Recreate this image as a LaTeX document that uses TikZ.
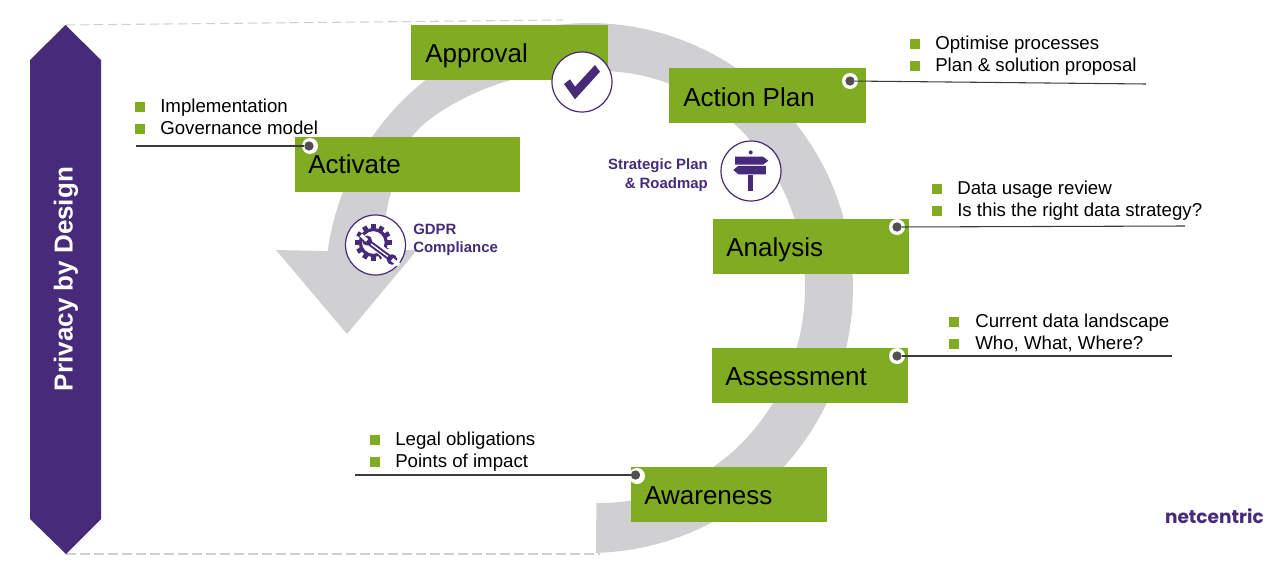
\documentclass[tikz,border=0pt]{standalone}
\usepackage{fontspec}
\setmainfont{Liberation Sans}
\newfontfamily\logofont{Poppins}
\definecolor{plum}{HTML}{472A7A}
\definecolor{leaf}{HTML}{7FAC23}
\definecolor{ring}{HTML}{D0D0D2}
\definecolor{leader}{HTML}{3C3C3C}
\tikzset{
  stage/.style={fill=leaf,draw=none,inner sep=0pt,minimum width=#1*0.75pt,minimum height=41.25pt,anchor=north west},
  stagelabel/.style={anchor=base west,inner sep=0pt,text=black,font=\fontsize{19.5}{24}\selectfont},
  bulletbox/.style={fill=leaf,draw=none,inner sep=0pt,minimum size=7.5pt},
  bullettext/.style={anchor=base west,inner sep=0pt,text=black,font=\fontsize{14}{17}\selectfont},
  iconring/.style={circle,draw=plum,fill=white,line width=0.9pt,inner sep=0pt,minimum size=45pt},
  tagtext/.style={inner sep=0pt,text=plum,font=\fontsize{11.2}{14}\bfseries\selectfont},
  pin/.style={circle,fill=white,inner sep=0pt,minimum size=12pt},
  pincore/.style={circle,fill=leader!90,inner sep=0pt,minimum size=7pt},
  leaderline/.style={draw=leader,line width=0.8pt},
  edgeline/.style={draw=ring,line width=0.8pt,dash pattern=on 7pt off 3.5pt}
}
\begin{document}
\begin{tikzpicture}[x=0.75pt,y=-0.75pt]
\useasboundingbox (0,0) rectangle (1280,560);
% ring arrow
\fill[ring]
  plot[domain=88.5:-172,samples=100] ({589+264*cos(\x)},{288+265*sin(\x)})
  -- (276,250) -- (347,334) -- (417,250) -- (382,250)
  -- plot[smooth] coordinates {(382,250) (389,200) (412,137) (455,103) (516,79) (605,71)}
  -- plot[domain=-88:91,samples=100] ({600+205*cos(\x)},{287+216*sin(\x)})
  -- cycle;
% side arrow
\node[inner sep=0pt,minimum size=0pt] (toptip) at (65.5,25) {};
\node[inner sep=0pt,minimum size=0pt] (bottomtip) at (66,554) {};
\coordinate (topend) at (563,20);
\coordinate (bottomend) at (600,554);
\draw[edgeline] (toptip) -- (topend);
\draw[edgeline] (bottomtip) -- (bottomend);
\fill[plum] (65.5,25) -- (101,60) -- (101,519) -- (66,554) -- (30,519) -- (30,60) -- cycle;
\node[rotate=90,inner sep=0pt,text=white,font=\fontsize{19.5}{24}\bfseries\selectfont] (privacy) at (66,279) {Privacy by Design};
% stages
\node[stage=197] (approvalbox) at (411,25) {};
\node[stage=197] (actionbox) at (669,68) {};
\node[stage=225] (activatebox) at (295,137) {};
\node[stage=196] (analysisbox) at (713,218.5) {};
\node[stage=196] (assessmentbox) at (712,348) {};
\node[stage=196] (awarenessbox) at (631,467) {};
\node[stagelabel] (approvaltext) at (425,63) {Approval};
\node[stagelabel] (actiontext) at (683,106) {Action Plan};
\node[stagelabel] (activatetext) at (308,173.3) {Activate};
\node[stagelabel] (analysistext) at (726,256.3) {Analysis};
\node[stagelabel] (assessmenttext) at (725,385.3) {Assessment};
\node[stagelabel] (awarenesstext) at (644,504.3) {Awareness};
% pins and leaders
\coordinate (actionend) at (1146,84);
\coordinate (analysisend) at (1185,226);
\coordinate (assessmentend) at (1172,356);
\coordinate (awarenessend) at (355,475);
\coordinate (activateend) at (136,146);
\node[pin] (actionpin) at (850,81) {};
\node[pin] (analysispin) at (897,227) {};
\node[pin] (assessmentpin) at (897,356) {};
\node[pin] (awarenesspin) at (637,476) {};
\node[pin] (activatepin) at (310,146) {};
\node[pincore] (actioncore) at (850,81) {};
\node[pincore] (analysiscore) at (897,227) {};
\node[pincore] (assessmentcore) at (897,356) {};
\node[pincore] (awarenesscore) at (635.5,475) {};
\node[pincore] (activatecore) at (309,146) {};
\draw[leaderline] (actioncore) -- (actionend);
\draw[leaderline] (analysiscore) -- (analysisend);
\draw[leaderline] (assessmentcore) -- (assessmentend);
\draw[leaderline] (awarenesscore) -- (awarenessend);
\draw[leaderline] (activatecore) -- (activateend);
% bullets
\node[bulletbox] (b1) at (140,107) {};
\node[bulletbox] (b2) at (140,129) {};
\node[bullettext] (t1) at (160,112) {Implementation};
\node[bullettext] (t2) at (160,134) {Governance model};
\node[bulletbox] (b3) at (915,44) {};
\node[bulletbox] (b4) at (915,66) {};
\node[bullettext] (t3) at (935,50) {Optimise processes};
\node[bullettext] (t4) at (935,72) {Plan \& solution proposal};
\node[bulletbox] (b5) at (937,189) {};
\node[bulletbox] (b6) at (937,211) {};
\node[bullettext] (t5) at (957,194) {Data usage review};
\node[bullettext] (t6) at (957,216) {Is this the right data strategy?};
\node[bulletbox] (b7) at (954,322) {};
\node[bulletbox] (b8) at (954,344) {};
\node[bullettext] (t7) at (975,327) {Current data landscape};
\node[bullettext] (t8) at (975,349) {Who, What, Where?};
\node[bulletbox] (b9) at (375,440) {};
\node[bulletbox] (b10) at (375,462) {};
\node[bullettext] (t9) at (395,445) {Legal obligations};
\node[bullettext] (t10) at (395,467) {Points of impact};
% icon circles
\node[iconring] (checkicon) at (582,82) {};
\node[iconring] (signicon) at (751,171) {};
\node[iconring] (gearicon) at (375.5,245) {};
% check mark
\fill[plum] (564,84) -- (575,99.3) -- (600,71.7) -- (595,65) -- (575,86.7) -- (570,79.3) -- cycle;
% signpost
\fill[plum] (750.7,152.4) circle[radius=2];
\fill[plum] (735,156.7) -- (763,156.7) -- (768.3,160.7) -- (763,164.7) -- (735,164.7) -- cycle;
\fill[plum] (738.3,165.8) -- (765.8,165.8) -- (765.8,174.3) -- (738.3,174.3) -- (733.3,170) -- cycle;
\fill[plum] (748.3,175) rectangle (753.3,191);
% gear
\draw[plum,line width=2.4pt] (373.3,242.5) circle[radius=13];
\foreach \a in {0,30,...,330}
  \fill[plum,shift={(373.3,242.5)},rotate=\a] (-2.4,-18.3) rectangle (2.4,-13);
% wrench
\fill[white] (391,258) circle[radius=9.5];
\draw[white,line width=7pt] (366,238) -- (393,260);
\draw[plum,line width=4pt] (369,242.5) -- (390,258);
\draw[white,line width=1pt] (371,244) -- (388,256.5);
\fill[plum] (367,240.5) circle[radius=5];
\draw[white,line width=2.6pt] (367,240.5) -- (361,235);
\fill[plum] (392,259.5) circle[radius=5.3];
\draw[white,line width=2.8pt] (392,259.5) -- (399,265);
% tags
\node[tagtext,anchor=base east] (strat1) at (708,169) {Strategic Plan};
\node[tagtext,anchor=base east] (strat2) at (708,188) {\& Roadmap};
\node[tagtext,anchor=base west] (gdpr1) at (413,234) {GDPR};
\node[tagtext,anchor=base west] (gdpr2) at (413,252.5) {Compliance};
% logo
\node[anchor=base east,inner sep=0pt,text=plum,font=\logofont\fontsize{13.9}{16}\bfseries\selectfont] (logo) at (1264,523) {netcentric};
\end{tikzpicture}
\end{document}
